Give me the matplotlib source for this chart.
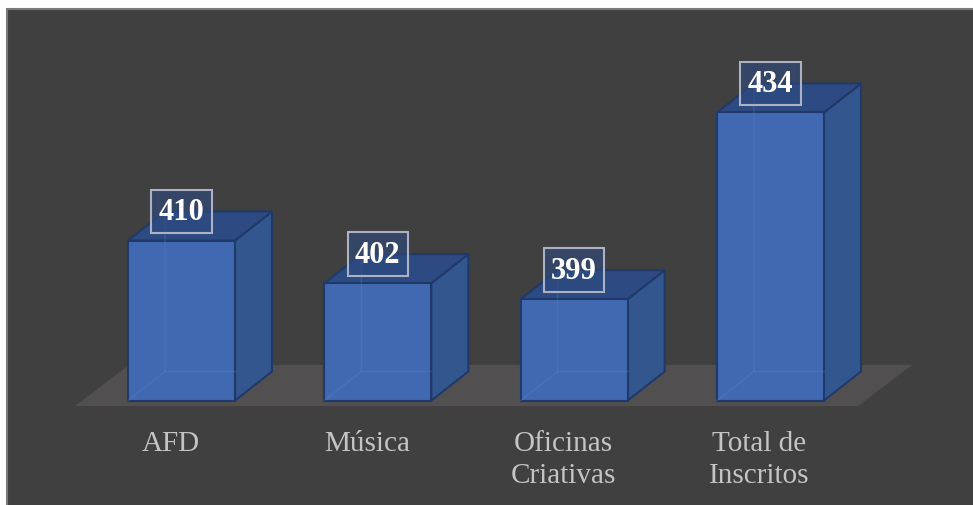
import matplotlib
matplotlib.use("Agg")
import matplotlib.pyplot as plt
from matplotlib.patches import Polygon, Rectangle
import numpy as np

categories = ["AFD", "Música", "Oficinas\nCriativas", "Total de\nInscritos"]
values = [410, 402, 399, 434]
base_value = 380

# style / geometry
W, H = 973, 506
bar_w = 0.545
dx, dy = 0.1885, 5.44          # depth offset (data units)
front_c = "#4169b1"
side_c = "#34568f"
top_c = "#2d4b82"
edge_c = "#1f3a6a"
floor_c = "#514f4f"
bg_c = "#404040"
txt_c = "#c4c4c4"
serif = ["Liberation Serif", "DejaVu Serif"]

fig = plt.figure(figsize=(W / 100, H / 100), dpi=100, facecolor="white")
fig.patches.append(Rectangle((7 / W, -0.01), (W - 7) / W + 0.01, (H - 10) / H + 0.01,
                             transform=fig.transFigure, facecolor=bg_c,
                             edgecolor="#7a7a7a", lw=1.5, zorder=-5))
ax = fig.add_axes([0, 0, 1, 1], zorder=1)
ax.patch.set_alpha(0)
ax.set_xlim(-0.9245, 4.0316)
ax.set_ylim(360.41, 455.28)
ax.axis("off")

x = np.arange(len(values))
n = len(values)

# floor
f_left, f_right = -0.5425, (n - 1) + 0.4458
f_dx = 0.275
f_front, f_back = 378.97, 386.66
ax.add_patch(Polygon([(f_left, f_front), (f_right, f_front),
                      (f_right + f_dx, f_back), (f_left + f_dx, f_back)],
                     closed=True, facecolor=floor_c, edgecolor="none", zorder=1))

for xi, v in zip(x, values):
    l, r = xi - bar_w / 2, xi + bar_w / 2
    ax.add_patch(Polygon([(r, base_value), (r + dx, base_value + dy),
                          (r + dx, v + dy), (r, v)], closed=True,
                         facecolor=side_c, edgecolor=edge_c, lw=1.5, zorder=2))
    ax.add_patch(Polygon([(l, v), (l + dx, v + dy), (r + dx, v + dy), (r, v)],
                         closed=True, facecolor=top_c, edgecolor=edge_c,
                         lw=1.5, zorder=2))

ax.bar(x, np.array(values) - base_value, bottom=base_value, width=bar_w,
       color=front_c, edgecolor=edge_c, lw=1.5, zorder=3)

# faint hidden back edges seen through the front face
for xi, v in zip(x, values):
    l, r = xi - bar_w / 2, xi + bar_w / 2
    ax.plot([l, l + dx, l + dx], [base_value, base_value + dy, v + dy],
            color="#6a8fd0", lw=1.0, alpha=0.22, zorder=4)
    ax.plot([l + dx, r], [base_value + dy, base_value + dy],
            color="#6a8fd0", lw=1.0, alpha=0.22, zorder=4)

# value labels
for xi, v in zip(x, values):
    ax.text(xi, v + dy, str(v), ha="center", va="center", color="white",
            fontsize=22, fontweight="bold", family=serif, zorder=6,
            bbox=dict(boxstyle="square,pad=0.24", facecolor=(0.18, 0.29, 0.50, 0.6),
                      edgecolor="#aab2c4", lw=1.5))

# category labels
for xi, c in zip(x, categories):
    ax.text(xi - 0.056, 374.5, c, ha="center", va="top", color=txt_c,
            fontsize=21, family=serif, linespacing=1.3, zorder=6)

fig.savefig("out.png", dpi=100, facecolor="white")
